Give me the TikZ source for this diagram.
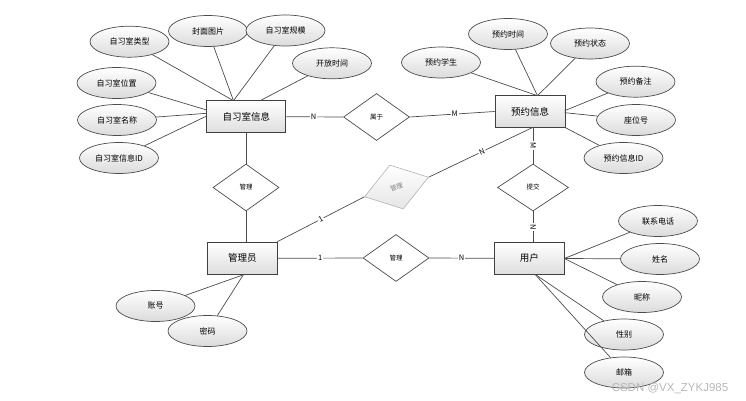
\documentclass[tikz,border=0pt]{standalone}
\usepackage{fontspec}
\setmainfont{Noto Sans CJK SC}
\newfontfamily\wmfont{Liberation Sans}
\usetikzlibrary{shapes.geometric}
\begin{document}
\begin{tikzpicture}[x=1pt,y=-1pt,
 ent/.style={draw=black!75, line width=0.9pt, top color=white, bottom color=black!13, minimum width=70pt, minimum height=32pt, inner sep=0pt, font=\fontsize{9.5}{10}\selectfont},
 attr/.style={ellipse, draw=black!70, line width=0.7pt, top color=white, bottom color=black!14, minimum width=79pt, minimum height=31pt, inner sep=0pt, font=\fontsize{8}{9}\selectfont},
 rel/.style={diamond, draw=black!70, line width=0.7pt, fill=white, minimum width=66pt, minimum height=47pt, inner sep=0pt, font=\fontsize{6.5}{7}\selectfont},
 lnk/.style={draw=black!70, line width=0.7pt},
 card/.style={fill=white, inner sep=1pt, font=\fontsize{7.5}{8}\selectfont}
]
\useasboundingbox (0,0) rectangle (746,401);
% entities
\node[ent, minimum width=79pt] (zxs) at (246.3,116.7) {自习室信息};
\node[ent] (yyxx) at (530,111.5) {预约信息};
\node[ent] (gly) at (242.3,258.3) {管理员};
\node[ent] (yh) at (529.3,258.3) {用户};
% relationships
\node[rel] (sy) at (376.5,117) {属于};
\node[rel] (gl1) at (246,187.5) {管理};
\node[rel] (gl3) at (396,258) {管理};
\node[rel, minimum width=71pt] (tj) at (533,187.5) {提交};
% grey tilted relationship
\node[rel, rotate=17, draw=black!30, line width=0.6pt, fill=none, top color=white, bottom color=black!10, text=black!50, minimum width=67pt, minimum height=46pt] (g2) at (396.5,187) {管理};
% attributes of 自习室信息
\node[attr] (a1) at (129.5,41.7) {自习室类型};
\node[attr] (a2) at (208,31) {封面图片};
\node[attr] (a3) at (285.5,30.5) {自习室规模};
\node[attr] (a4) at (332,63.3) {开放时间};
\node[attr] (a5) at (116.5,83) {自习室位置};
\node[attr] (a6) at (117,120) {自习室名称};
\node[attr] (a7) at (119,158) {自习室信息ID};
% attributes of 预约信息
\node[attr] (b1) at (441,62.5) {预约学生};
\node[attr] (b2) at (508,34) {预约时间};
\node[attr] (b3) at (590,43.5) {预约状态};
\node[attr] (b4) at (635.5,81.7) {预约备注};
\node[attr] (b5) at (636,120) {座位号};
\node[attr] (b6) at (623.5,158) {预约信息ID};
% attributes of 管理员
\node[attr] (c1) at (155.5,306) {账号};
\node[attr] (c2) at (207.5,331) {密码};
% attributes of 用户
\node[attr] (d1) at (658,221) {联系电话};
\node[attr] (d2) at (660,259) {姓名};
\node[attr] (d3) at (642,297) {昵称};
\node[attr] (d4) at (624,334.5) {性别};
\node[attr] (d5) at (624,372.5) {邮箱};
% anchor coordinates
\coordinate (zxsA) at (233.5,100.7);
\coordinate (zxsB) at (260,100.7);
\coordinate (zxsL1) at (206.7,110);
\coordinate (zxsL2) at (206.7,113.3);
\coordinate (zxsL3) at (206.7,116);
\coordinate (zxsS) at (246,132.7);
\coordinate (yyA) at (537.5,95.7);
\coordinate (yyR1) at (564.7,110.7);
\coordinate (yyR2) at (564.7,112.7);
\coordinate (yyR3) at (564.7,127.3);
\coordinate (yyB) at (533,127.3);
\coordinate (glyT) at (246,241.7);
\coordinate (glyTR) at (277.3,241.7);
\coordinate (glyB) at (243.3,274.8);
\coordinate (yhT) at (533,242.3);
\coordinate (yhR) at (564.3,258.5);
\coordinate (yhB) at (535,274.3);
% attribute links
\draw[lnk] (a1) -- (zxsA);
\draw[lnk] (a2) -- (zxsA);
\draw[lnk] (a3) -- (zxsA);
\draw[lnk] (a4) -- (zxsB);
\draw[lnk] (a5) -- (zxsL1);
\draw[lnk] (a6) -- (zxsL2);
\draw[lnk] (a7) -- (zxsL3);
\draw[lnk] (b1) -- (yyA);
\draw[lnk] (b2) -- (yyA);
\draw[lnk] (b3) -- (yyA);
\draw[lnk] (b4) -- (yyR1);
\draw[lnk] (b5) -- (yyR2);
\draw[lnk] (b6) -- (yyR3);
\draw[lnk] (c1) -- (glyB);
\draw[lnk] (c2) -- (glyB);
\draw[lnk] (d1) -- (yhR);
\draw[lnk] (d2) -- (yhR);
\draw[lnk] (d3) -- (yhR);
\draw[lnk] (d4) -- (yhB);
\draw[lnk] (d5) -- (yhB);
% relationship links
\draw[lnk] (zxs.east) -- node[card, pos=0.48] {N} (sy.west);
\draw[lnk] (sy.east) -- node[card, pos=0.53] {M} (yyxx.west);
\draw[lnk] (zxsS) -- (gl1.north);
\draw[lnk] (gl1.south) -- (glyT);
\draw[lnk] (gly.east) -- node[card, pos=0.5] {1} (gl3.west);
\draw[lnk] (gl3.east) -- node[card, pos=0.5] {N} (yh.west);
\draw[lnk] (glyTR) -- node[card, pos=0.5, rotate=27] {1} (g2.west);
\draw[lnk] (g2.east) -- node[card, pos=0.51, rotate=24] {N} (yyB);
\draw[lnk] (yyB) -- node[card, pos=0.5, rotate=-90] {M} (tj.north);
\draw[lnk] (tj.south) -- node[card, pos=0.5, rotate=-90] {N} (yhT);
% watermark
\node[text=black!28, font=\wmfont\fontsize{11.5}{12}\selectfont, inner sep=0pt] (wm) at (670,388) {CSDN @VX\_ZYKJ985};
\end{tikzpicture}
\end{document}
